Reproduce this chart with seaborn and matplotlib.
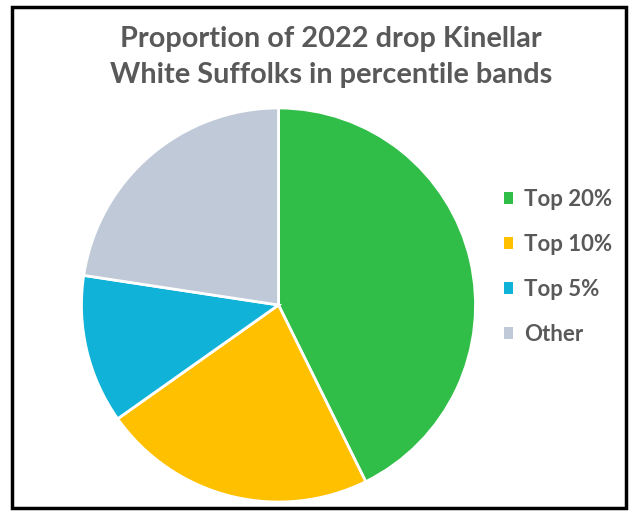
import matplotlib
matplotlib.use("Agg")
import matplotlib.pyplot as plt
import seaborn as sns
from matplotlib.patches import Rectangle, Patch

categories = ["Top 20%", "Top 10%", "Top 5%", "Other"]
values = [42.7, 22.5, 12.2, 22.6]
colors = ["#31BE48", "#FFC000", "#10B2D8", "#C0C9D8"]
title = "Proportion of 2022 drop Kinellar\nWhite Suffolks in percentile bands"

sns.set_theme(style="white")
plt.rcParams['font.family'] = ['Lato', 'DejaVu Sans']

W, H = 633, 511
fig = plt.figure(figsize=(W / 100, H / 100), dpi=100)
fig.patch.set_facecolor("white")

cx, cy, r = 278.5, 305, 199
ax = fig.add_axes([(cx - r) / W, (H - cy - r) / H, 2 * r / W, 2 * r / H])
wedges, _ = ax.pie(values, colors=colors, startangle=90, counterclock=False,
                   radius=1.0, wedgeprops=dict(edgecolor="white", linewidth=2))
ax.set_xlim(-1.01, 1.01)
ax.set_ylim(-1.01, 1.01)
ax.set_aspect("equal")
ax.axis("off")

fig.text(331 / W, 1 - 57 / H, title, ha="center", va="center", fontsize=20.8,
         fontweight="bold", color="#595959", linespacing=1.5)

handles = [Patch(facecolor=c, edgecolor="none") for c in colors]
leg = fig.legend(handles, categories, loc="center left",
                 bbox_to_anchor=(484 / W, 1 - 267 / H), frameon=False,
                 fontsize=16, labelspacing=1.08, handlelength=0.42, handleheight=0.42,
                 handletextpad=0.5)
for t in leg.get_texts():
    t.set_color("#595959")
    t.set_fontweight("bold")

fig.patches.append(Rectangle((12 / W, 1 - 508 / H), (626 - 12) / W, (508 - 7) / H,
                             transform=fig.transFigure, fill=False,
                             edgecolor="black", linewidth=2.5))

fig.savefig("out.png", dpi=100, facecolor="white")
